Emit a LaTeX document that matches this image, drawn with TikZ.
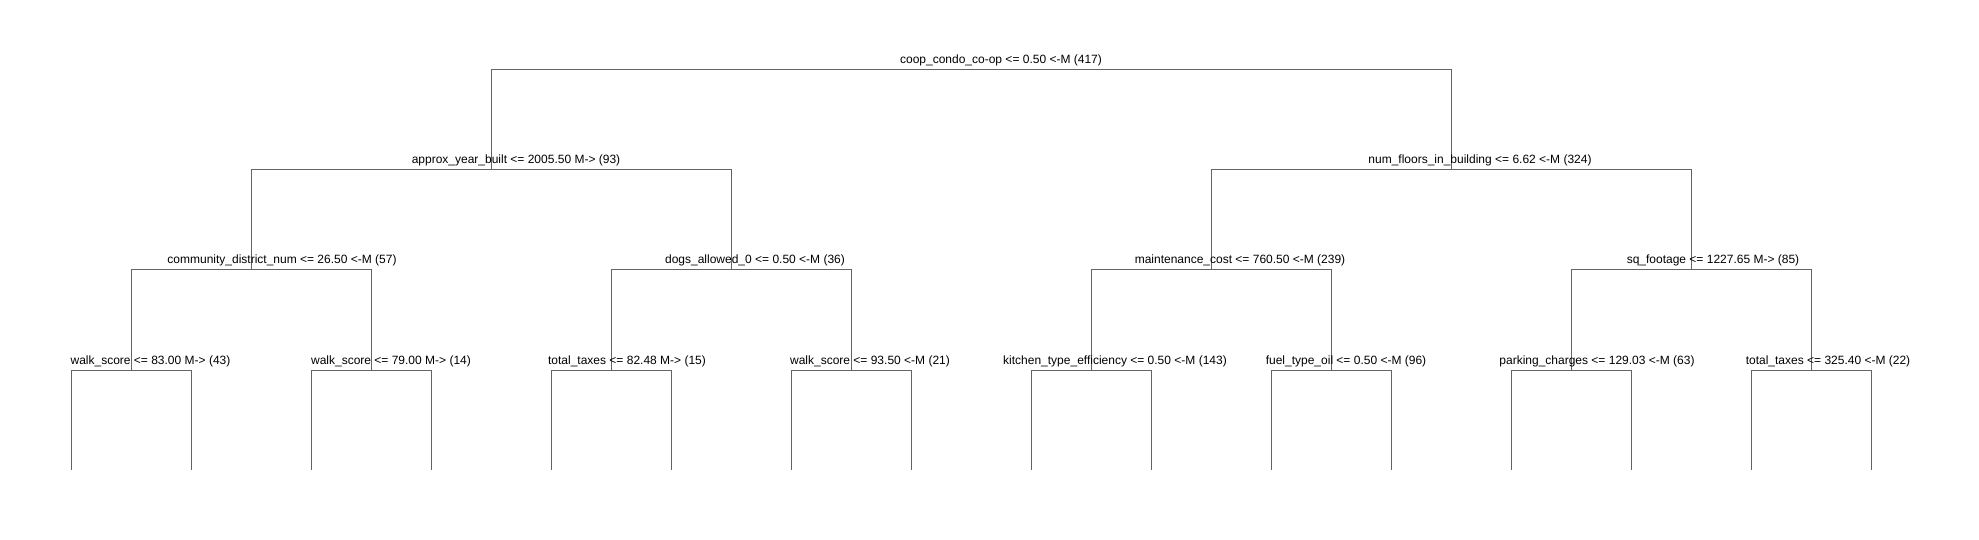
\documentclass[tikz,border=0pt]{standalone}
\usepackage{fontspec}
\setmainfont{Liberation Sans}
\definecolor{edgegray}{RGB}{100,100,100}
\begin{document}
\begin{tikzpicture}[x=1pt,y=-1pt,
  lbl/.style={anchor=base,inner sep=0pt,font=\fontsize{12}{14}\selectfont,text=black},
  edge/.style={draw=edgegray,line width=1pt}]
\fill[white] (0,0) rectangle (1979,540);
% tree node points
\coordinate (r) at (971,70);
\coordinate (a) at (491,170);
\coordinate (b) at (1451,170);
\coordinate (aa) at (251,270);
\coordinate (ab) at (731,270);
\coordinate (ba) at (1211,270);
\coordinate (bb) at (1691,270);
\coordinate (aaa) at (131,370);
\coordinate (aab) at (371,370);
\coordinate (aba) at (611,370);
\coordinate (abb) at (851,370);
\coordinate (baa) at (1091,370);
\coordinate (bab) at (1331,370);
\coordinate (bba) at (1571,370);
\coordinate (bbb) at (1811,370);
% leaves
\foreach \i in {0,...,15}{
  \coordinate (leaf\i) at ({71+120*\i},470);
}
% edges
\draw[edge] (r) -| (a); \draw[edge] (r) -| (b);
\draw[edge] (a) -| (aa); \draw[edge] (a) -| (ab);
\draw[edge] (b) -| (ba); \draw[edge] (b) -| (bb);
\draw[edge] (aa) -| (aaa); \draw[edge] (aa) -| (aab);
\draw[edge] (ab) -| (aba); \draw[edge] (ab) -| (abb);
\draw[edge] (ba) -| (baa); \draw[edge] (ba) -| (bab);
\draw[edge] (bb) -| (bba); \draw[edge] (bb) -| (bbb);
\draw[edge] (aaa) -| (leaf0); \draw[edge] (aaa) -| (leaf1);
\draw[edge] (aab) -| (leaf2); \draw[edge] (aab) -| (leaf3);
\draw[edge] (aba) -| (leaf4); \draw[edge] (aba) -| (leaf5);
\draw[edge] (abb) -| (leaf6); \draw[edge] (abb) -| (leaf7);
\draw[edge] (baa) -| (leaf8); \draw[edge] (baa) -| (leaf9);
\draw[edge] (bab) -| (leaf10); \draw[edge] (bab) -| (leaf11);
\draw[edge] (bba) -| (leaf12); \draw[edge] (bba) -| (leaf13);
\draw[edge] (bbb) -| (leaf14); \draw[edge] (bbb) -| (leaf15);
% labels
\node[lbl] (lr) at (1001,64) {coop\_condo\_co-op <= 0.50 <-M (417)};
\node[lbl] (la) at (516,164) {approx\_year\_built <= 2005.50 M-> (93)};
\node[lbl] (lb) at (1480,164) {num\_floors\_in\_building <= 6.62 <-M (324)};
\node[lbl] (laa) at (282,264) {community\_district\_num <= 26.50 <-M (57)};
\node[lbl] (lab) at (755,264) {dogs\_allowed\_0 <= 0.50 <-M (36)};
\node[lbl] (lba) at (1240,264) {maintenance\_cost <= 760.50 <-M (239)};
\node[lbl] (lbb) at (1713,264) {sq\_footage <= 1227.65 M-> (85)};
\node[lbl] (laaa) at (150.5,364) {walk\_score <= 83.00 M-> (43)};
\node[lbl] (laab) at (391,364) {walk\_score <= 79.00 M-> (14)};
\node[lbl] (laba) at (627,364) {total\_taxes <= 82.48 M-> (15)};
\node[lbl] (labb) at (870,364) {walk\_score <= 93.50 <-M (21)};
\node[lbl] (lbaa) at (1115,364) {kitchen\_type\_efficiency <= 0.50 <-M (143)};
\node[lbl] (lbab) at (1346,364) {fuel\_type\_oil <= 0.50 <-M (96)};
\node[lbl] (lbba) at (1597,364) {parking\_charges <= 129.03 <-M (63)};
\node[lbl] (lbbb) at (1828,364) {total\_taxes <= 325.40 <-M (22)};
\end{tikzpicture}
\end{document}
